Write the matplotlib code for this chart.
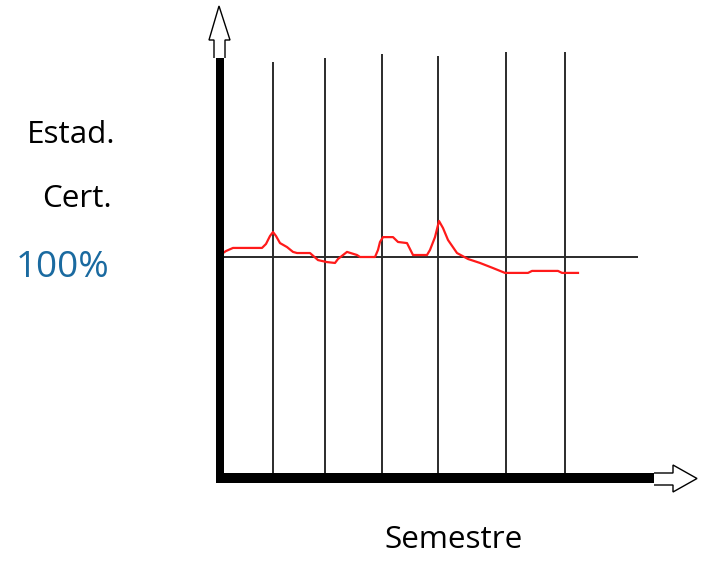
import matplotlib
matplotlib.use("Agg")
import matplotlib.pyplot as plt
from matplotlib.patches import Polygon, Rectangle

# ---- data ----
# x: position along the semester axis (pixel-scale units from the origin)
# y: certification rate in percent (100% = reference line)
semester_marks = [53, 105, 162, 218, 286, 345]
mark_tops = [188.2, 190.0, 191.9, 191.0, 192.8, 192.8]
reference_level = 100
reference_span = [-2, 418]

series_x = [0, 3, 6, 13, 42, 46, 50, 53, 56, 60, 67, 73, 77, 90, 98, 107, 115, 118,
            127, 137, 140, 155, 158, 160, 163, 173, 178, 187, 192, 193, 207, 210,
            215, 219, 223, 228, 237, 248, 260, 273, 285, 308, 312, 338, 342, 358]
series_y = [100.9, 101.8, 102.7, 104.1, 104.1, 105.9, 109.5, 111.3, 109.5, 106.3,
            104.5, 102.3, 101.8, 101.8, 98.6, 97.7, 97.3, 99.1, 102.3, 100.9, 100.0,
            100.0, 103.2, 106.8, 109.0, 109.0, 106.8, 106.3, 101.8, 100.9, 100.9,
            103.2, 109.0, 116.3, 113.1, 107.7, 101.8, 99.1, 97.3, 95.0, 92.8, 92.8,
            93.7, 93.7, 92.8, 92.8]

label_y1 = "Estad."
label_y2 = "Cert."
label_level = "100%"
label_x = "Semestre"

W, H = 702, 563
fig = plt.figure(figsize=(W / 100, H / 100), dpi=100)

# data axes
ax = fig.add_axes([0, 0, 1, 1])
ax.set_xlim(-220, W - 220)
ax.set_ylim(100 - (H - 257) / 2.21, 100 + 257 / 2.21)
ax.axis("off")

ax.vlines(semester_marks, 0, mark_tops, colors="#1a1a1a", linewidth=1.3, zorder=2)
ax.hlines(reference_level, reference_span[0], reference_span[1],
          colors="#2a2a2a", linewidth=1.4, zorder=2)
ax.plot(series_x, series_y, color="#ff1a1a", linewidth=1.6, zorder=3)

# decoration overlay in pixel coordinates
ov = fig.add_axes([0, 0, 1, 1])
ov.set_xlim(0, W)
ov.set_ylim(H, 0)
ov.axis("off")
ov.patch.set_alpha(0)

ov.add_patch(Rectangle((216, 58), 8, 425, facecolor="black", edgecolor="none", zorder=4))
ov.add_patch(Rectangle((216, 473), 438, 10, facecolor="black", edgecolor="none", zorder=4))
ov.add_patch(Polygon([(214, 58), (214, 40), (209, 40), (219, 6), (230, 40), (225, 40), (225, 58)],
                     closed=False, facecolor="white", edgecolor="black", linewidth=1.0,
                     zorder=5))
ov.add_patch(Polygon([(654, 473), (673, 473), (673, 465), (697, 478.5), (673, 492), (673, 485), (654, 485)],
                     closed=False, facecolor="white", edgecolor="black", linewidth=1.0,
                     zorder=5))

font = ["Open Sans", "DejaVu Sans"]
fig.text(71 / W, 1 - 143 / H, label_y1, ha="center", va="baseline", fontsize=22.6, family=font)
fig.text(77 / W, 1 - 207 / H, label_y2, ha="center", va="baseline", fontsize=22.6, family=font)
fig.text(62.5 / W, 1 - 277 / H, label_level, ha="center", va="baseline", fontsize=26.5,
         color="#1a6aa0", family=font)
fig.text(453.5 / W, 1 - 548 / H, label_x, ha="center", va="baseline", fontsize=22.6, family=font)

fig.savefig("out.png", dpi=100)
